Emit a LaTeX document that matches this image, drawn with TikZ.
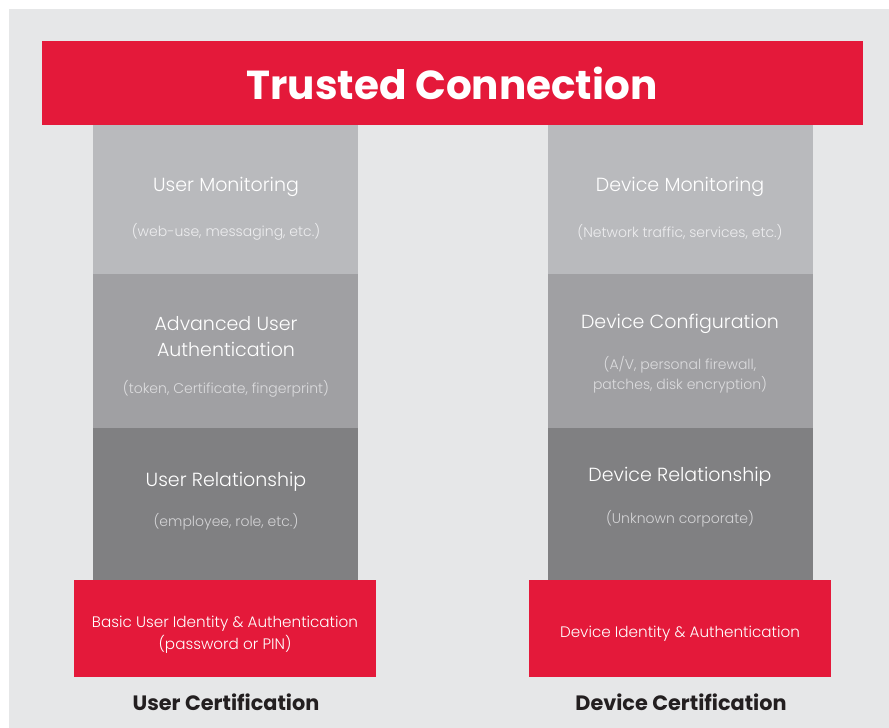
\documentclass[tikz,border=0pt]{standalone}
\usepackage{fontspec}
\setmainfont{Poppins}
\newfontfamily\lightfont{Poppins Light}
\definecolor{bgray}{HTML}{E6E7E8}
\definecolor{tred}{HTML}{E4193A}
\definecolor{tierA}{HTML}{B9BABD}
\definecolor{tierB}{HTML}{A0A0A3}
\definecolor{tierC}{HTML}{808082}
\definecolor{subA}{HTML}{EDEDEF}
\definecolor{subB}{HTML}{DCDCDE}
\definecolor{subC}{HTML}{D4D4D6}
\definecolor{labelink}{HTML}{231F20}
\begin{document}
\begin{tikzpicture}[x=1pt,y=-1pt,
  block/.style={anchor=north west,inner sep=0pt,outer sep=0pt,draw=none},
  headtxt/.style={text=white,font=\lightfont\fontsize{19}{22}\selectfont,align=center,inner sep=0pt,yshift=-3pt},
  subtxt/.style={font=\lightfont\fontsize{14}{20}\selectfont,align=center,inner sep=0pt,yshift=-1pt},
  basetxt/.style={text=white,font=\lightfont\fontsize{15.2}{21}\selectfont,align=center,inner sep=0pt,yshift=-2.5pt},
  certtxt/.style={text=labelink,font=\bfseries\fontsize{20.8}{24}\selectfont,inner sep=0pt}]
\useasboundingbox (0,0) rectangle (889,728);
\fill[white] (0,0) rectangle (889,728);
\fill[bgray] (9,9) rectangle (889,728);

% title bar
\node[block,fill=tred,minimum width=821,minimum height=84] (title) at (42,41) {};
\node[text=white,font=\bfseries\fontsize{40.5}{44}\selectfont,inner sep=0pt] (titletxt) at (452,83) {Trusted Connection};

% left stack
\node[block,fill=tierA,minimum width=265,minimum height=149] (umon) at (93,125) {};
\node[block,fill=tierB,minimum width=265,minimum height=154] (uauth) at (93,274) {};
\node[block,fill=tierC,minimum width=265,minimum height=152] (urel) at (93,428) {};
\node[block,fill=tred,minimum width=302,minimum height=97] (ubase) at (74,580) {};

\node[headtxt] (umon1) at (226,184) {User Monitoring};
\node[subtxt,text=subA] (umon2) at (226,231) {(web-use, messaging, etc.)};
\node[headtxt] (uauth1) at (226,321) {Advanced User};
\node[headtxt] (uauth2) at (226,346) {Authentication};
\node[subtxt,text=subB] (uauth3) at (226,388) {(token, Certificate, fingerprint)};
\node[headtxt] (urel1) at (226,479) {User Relationship};
\node[subtxt,text=subC] (urel2) at (226,521) {(employee, role, etc.)};
\node[basetxt] (ubase1) at (225,621) {Basic User Identity \& Authentication};
\node[basetxt] (ubase2) at (225,642) {(password or PIN)};
\node[certtxt] (ucert) at (226,702) {User Certification};

% right stack
\node[block,fill=tierA,minimum width=265,minimum height=149] (dmon) at (548,125) {};
\node[block,fill=tierB,minimum width=265,minimum height=154] (dconf) at (548,274) {};
\node[block,fill=tierC,minimum width=265,minimum height=152] (drel) at (548,428) {};
\node[block,fill=tred,minimum width=302,minimum height=97] (dbase) at (529,580) {};

\node[headtxt] (dmon1) at (680,184) {Device Monitoring};
\node[subtxt,text=subA] (dmon2) at (680,231) {(Network traffic, services, etc.)};
\node[headtxt] (dconf1) at (680,321) {Device Configuration};
\node[subtxt,text=subB] (dconf2) at (680,364) {(A/V, personal firewall,};
\node[subtxt,text=subB] (dconf3) at (680,384) {patches, disk encryption)};
\node[headtxt] (drel1) at (680,474) {Device Relationship};
\node[subtxt,text=subC] (drel2) at (680,518) {(Unknown corporate)};
\node[basetxt] (dbase1) at (680,631) {Device Identity \& Authentication};
\node[certtxt] (dcert) at (681,702) {Device Certification};
\end{tikzpicture}
\end{document}
